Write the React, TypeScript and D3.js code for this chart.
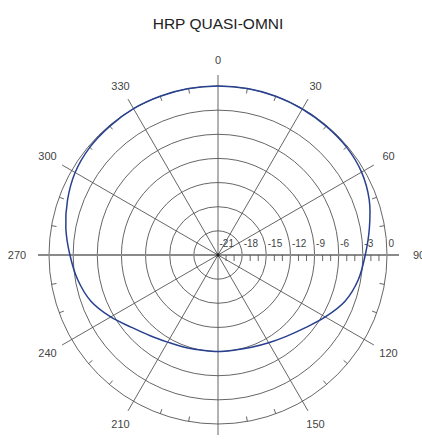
import React from "react";
import * as d3 from "d3";

// azimuth (deg, clockwise from north) and relative gain (dB)
const azimuths = [
  0, 10, 20, 30, 40, 50, 60, 70, 80, 90, 100, 110, 120, 130, 140, 150, 160, 170,
  180, 190, 200, 210, 220, 230, 240, 250, 260, 270, 280, 290, 300, 310, 320, 330, 340, 350,
];
const gainDb = [
  0, 0, 0, -0.05, -0.1, -0.15, -0.4, -1.0, -1.9, -2.7, -3.3, -4.2, -5.6, -6.9, -7.8, -8.4, -8.8, -9.0,
  -9.0, -9.0, -8.8, -8.5, -7.9, -7.0, -5.6, -4.2, -3.3, -2.6, -1.8, -1.1, -0.5, -0.2, -0.1, 0, 0, 0,
];
const ringDb = [-18, -15, -12, -9, -6, -3, 0];
const ringLabels = ["-21", "-18", "-15", "-12", "-9", "-6", "-3", "0"];
const spokeAngles = [0, 30, 60, 90, 120, 150, 180, 210, 240, 270, 300, 330];
const title = "HRP QUASI-OMNI";

const W = 422;
const H = 442;
const cx = 218;
const cy = 255;
const R = 169;
const font = "'Liberation Sans', Arial, sans-serif";

const App = () => {
  const r = d3.scaleLinear().domain([-21, 0]).range([0, R]);
  const rad = (deg: number) => (deg * Math.PI) / 180;
  const pt = (deg: number, rr: number): [number, number] => [
    Math.sin(rad(deg)) * rr,
    -Math.cos(rad(deg)) * rr,
  ];

  const trace = d3
    .lineRadial<number>()
    .angle((_, i) => rad(azimuths[i]))
    .radius((d) => r(d))
    .curve(d3.curveCatmullRomClosed.alpha(0.5));

  const minorAz = d3.range(0, 360, 10).filter((a) => a % 30 !== 0);
  const minorDb = d3.range(-20, 0).filter((v) => v % 3 !== 0);

  return (
    <svg
      width={W}
      height={H}
      style={{ position: "absolute", left: 0, top: 0, background: "#fff" }}
      fontFamily={font}
    >
      <text x={cx} y={29} textAnchor="middle" fontSize={15.5} fill="#222">
        {title}
      </text>
      <g transform={`translate(${cx},${cy})`}>
        {ringDb.map((v) => (
          <circle key={v} r={r(v)} fill="none" stroke="#555" strokeWidth={0.9} />
        ))}
        {spokeAngles
          .filter((a) => a % 180 !== 90)
          .map((a) => {
            const [x, y] = pt(a, R + 11);
            return <line key={a} x1={0} y1={0} x2={x} y2={y} stroke="#555" strokeWidth={0.9} />;
          })}
        <line x1={-(R + 11)} y1={0} x2={R + 12} y2={0} stroke="#8a8a8a" strokeWidth={1.8} />
        {minorAz.map((a) => {
          const [x1, y1] = pt(a, R);
          const [x2, y2] = pt(a, R - 5);
          return <line key={a} x1={x1} y1={y1} x2={x2} y2={y2} stroke="#555" strokeWidth={0.9} />;
        })}
        {minorDb.map((v) => (
          <line key={v} x1={r(v)} y1={0} x2={r(v)} y2={6} stroke="#555" strokeWidth={0.9} />
        ))}
        <circle r={1.8} fill="#222" />
        <path
          d={trace(gainDb) ?? ""}
          fill="none"
          stroke="#27408f"
          strokeWidth={1.5}
        />
        {ringLabels.map((t, i) => (
          <text key={t} x={r(-21 + i * 3) + 1.5} y={-8} fontSize={10} fill="#444">
            {t}
          </text>
        ))}
        {spokeAngles.map((a) => {
          const off = 195 + 6 * Math.pow(Math.abs(Math.sin(rad(a))), 8);
          const [x, y] = pt(a, off);
          return (
            <text
              key={a}
              x={x}
              y={y}
              dy="0.35em"
              textAnchor="middle"
              fontSize={11}
              fill="#444"
            >
              {a}
            </text>
          );
        })}
      </g>
    </svg>
  );
};

export default App;
